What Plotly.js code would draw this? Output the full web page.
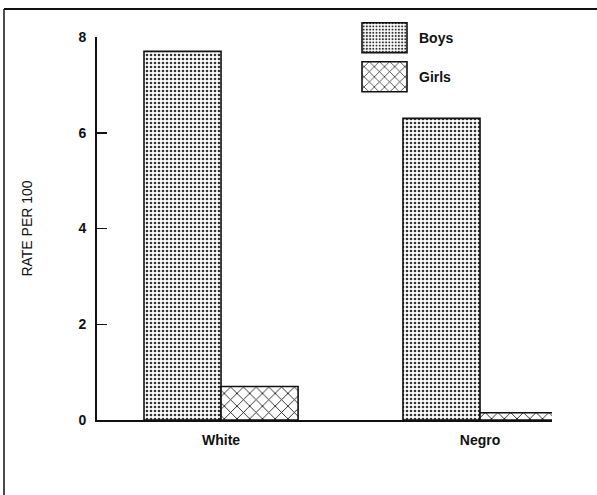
<!DOCTYPE html>
<html>
<head>
<meta charset="utf-8">
<script src="https://cdn.plot.ly/plotly-3.0.1.min.js"></script>
<style>
  html, body { margin: 0; padding: 0; background: #fff; }
  #chart { width: 597px; height: 495px; }
</style>
</head>
<body>
<div id="chart"></div>
<script>
// ---- data ----
const categories = ["White", "Negro"];
const boysRate  = [7.7, 6.3];
const girlsRate = [0.7, 0.15];
const seriesNames = ["Boys", "Girls"];
const yTickVals = [0, 2, 4, 6, 8];
const yTickText = ["0", "2", "4", "6", "8"];
const yTitle = "RATE PER 100";

const FONT = "Liberation Sans, Arial, Helvetica, sans-serif";
const INK = "#111";

const traces = [
  {
    type: "bar",
    name: seriesNames[0],
    x: categories,
    y: boysRate,
    legendgroup: "a",
    marker: {
      color: "#fff",
      line: { color: INK, width: 1.6 },
      pattern: { shape: ".", size: 4, solidity: 0.33, fgcolor: "#333", bgcolor: "#fff", fillmode: "replace" }
    },
    hoverinfo: "x+y"
  },
  {
    type: "bar",
    name: seriesNames[1],
    x: categories,
    y: girlsRate,
    legendgroup: "b",
    marker: {
      color: "#fff",
      line: { color: INK, width: 1.6 },
      pattern: { shape: "x", size: 9, solidity: 0.18, fgcolor: INK, bgcolor: "#fff", fillmode: "replace" }
    },
    hoverinfo: "x+y"
  }
];

function px2paperX(px) { return (px - 97) / 455; }
function px2paperY(py) { return (420 - py) / 383; }

const layout = {
  width: 597,
  height: 495,
  margin: { l: 97, r: 45, t: 37, b: 75 },
  paper_bgcolor: "#fff",
  plot_bgcolor: "#fff",
  font: { family: FONT, color: INK, size: 13 },
  barmode: "group",
  bargap: 0.405,
  bargroupgap: 0,
  showlegend: true,
  legend: {
    x: px2paperX(350),
    y: px2paperY(22),
    xanchor: "left",
    yanchor: "top",
    traceorder: "grouped",
    tracegroupgap: 18,
    font: { family: FONT, size: 14, color: INK, weight: "bold" },
    bgcolor: "rgba(0,0,0,0)",
    itemwidth: 59
  },
  xaxis: {
    type: "category",
    range: [-0.479, 1.278],
    showline: true,
    linecolor: INK,
    linewidth: 1.8,
    ticks: "",
    showgrid: false,
    zeroline: false,
    tickfont: { family: FONT, size: 14, color: INK, weight: "bold" },
    ticklabelstandoff: 6,
    fixedrange: true
  },
  yaxis: {
    range: [0, 8],
    tickvals: yTickVals,
    ticktext: yTickText,
    ticks: "inside",
    ticklen: 10,
    tickwidth: 1.5,
    tickcolor: INK,
    showline: true,
    linecolor: INK,
    linewidth: 1.8,
    showgrid: false,
    zeroline: false,
    tickfont: { family: FONT, size: 14, color: INK, weight: "bold" },
    ticklabelstandoff: 6,
    title: { text: yTitle, font: { family: FONT, size: 14, color: INK }, standoff: 43 },
    fixedrange: true
  },
  shapes: [
    { type: "line", xref: "paper", yref: "paper",
      x0: px2paperX(4), x1: px2paperX(597), y0: px2paperY(9), y1: px2paperY(9),
      line: { color: INK, width: 2 } },
    { type: "line", xref: "paper", yref: "paper",
      x0: px2paperX(4), x1: px2paperX(4), y0: px2paperY(9), y1: px2paperY(495),
      line: { color: INK, width: 1.5 } }
  ]
};

Plotly.newPlot("chart", traces, layout, { displayModeBar: false, staticPlot: true }).then(function (gd) {
  // enlarge the legend swatches to the large keys of the printed figure
  gd.querySelectorAll(".legend .legendpoints path").forEach(function (p) {
    p.setAttribute("d", "M22.5,15H-22.5V-15H22.5Z");
  });
});
</script>
</body>
</html>
